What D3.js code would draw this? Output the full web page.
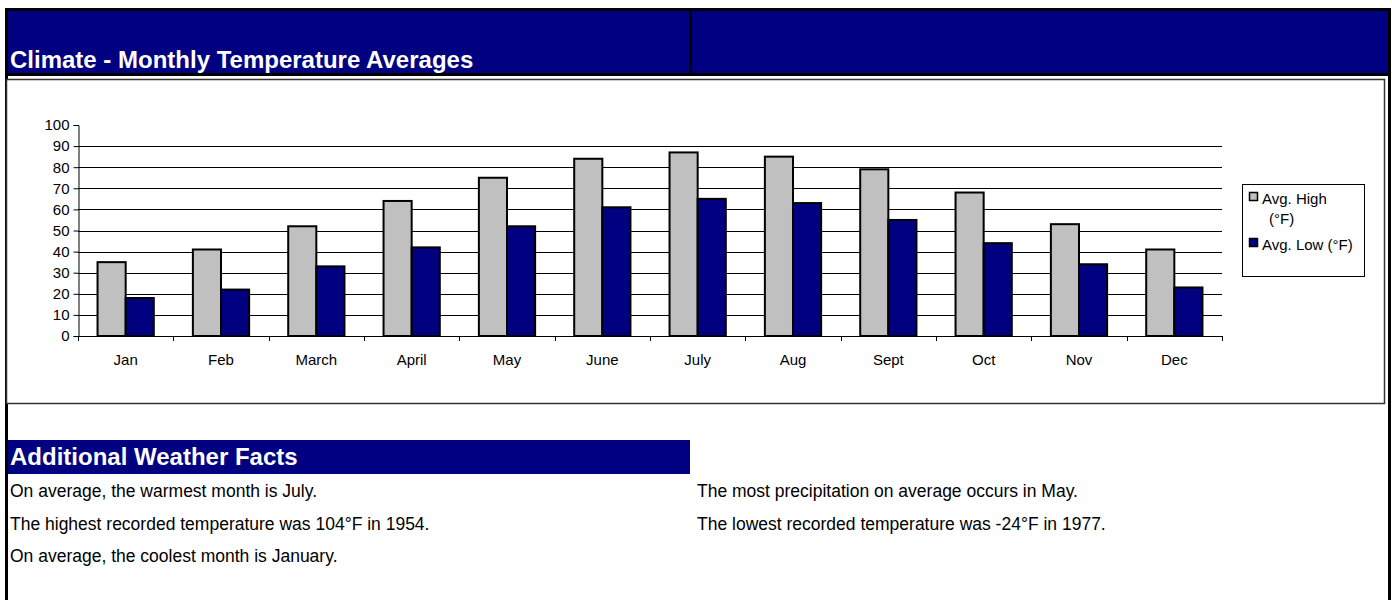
<!DOCTYPE html>
<html>
<head>
<meta charset="utf-8">
<script src="https://cdn.jsdelivr.net/npm/d3@7"></script>
<style>
  body { margin: 0; background: #fff; }
  svg { display: block; font-family: "Liberation Sans", Arial, sans-serif; }
</style>
</head>
<body>
<svg id="chart" width="1392" height="600"></svg>
<script>
// data
const months = ['Jan', 'Feb', 'March', 'April', 'May', 'June', 'July', 'Aug', 'Sept', 'Oct', 'Nov', 'Dec'];
const avgHigh = [35, 41, 52, 64, 75, 84, 87, 85, 79, 68, 53, 41];
const avgLow = [18, 22, 33, 42, 52, 61, 65, 63, 55, 44, 34, 23];
const seriesNames = ['Avg. High (°F)', 'Avg. Low (°F)'];
const yTicks = [0, 10, 20, 30, 40, 50, 60, 70, 80, 90, 100];
const factsLeft = [
  'On average, the warmest month is July.',
  'The highest recorded temperature was 104°F in 1954.',
  'On average, the coolest month is January.'
];
const factsRight = [
  'The most precipitation on average occurs in May.',
  'The lowest recorded temperature was -24°F in 1977.'
];

const NAVY = '#000080';
const GRAY = '#c0c0c0';
const colors = [GRAY, NAVY];
const FONT = '"Liberation Sans", Arial, sans-serif';

const svg = d3.select('#chart');

// page frame: thick black borders
svg.append('rect').attr('x', 5).attr('y', 8).attr('width', 1386).attr('height', 68).attr('fill', '#000');
svg.append('rect').attr('x', 8).attr('y', 11).attr('width', 681).attr('height', 62).attr('fill', NAVY);
svg.append('rect').attr('x', 692).attr('y', 11).attr('width', 696).attr('height', 62).attr('fill', NAVY);
svg.append('rect').attr('x', 5).attr('y', 76).attr('width', 3).attr('height', 524).attr('fill', '#000');
svg.append('rect').attr('x', 1388).attr('y', 76).attr('width', 3).attr('height', 524).attr('fill', '#000');

svg.append('text')
  .attr('x', 10).attr('y', 68)
  .attr('fill', '#fff')
  .attr('font-size', 24).attr('font-weight', 'bold')
  .text('Climate - Monthly Temperature Averages');

// chart frame
svg.append('rect')
  .attr('x', 6.5).attr('y', 79.5).attr('width', 1378).attr('height', 324)
  .attr('fill', '#fff').attr('stroke', '#333').attr('stroke-width', 1.5);

// scales
const x0 = d3.scaleBand().domain(months).range([78, 1222]).paddingInner(0.41).paddingOuter(0.205);
const x1 = d3.scaleBand().domain([0, 1]).range([0, x0.bandwidth()]);
const y = d3.scaleLinear().domain([0, 100]).range([336, 125]);

const plot = svg.append('g');

// grid lines (no line at 100)
plot.append('g')
  .selectAll('line')
  .data(yTicks.filter(d => d > 0 && d < 100))
  .join('line')
  .attr('x1', 78).attr('x2', 1222)
  .attr('y1', d => Math.round(y(d)) + 0.5).attr('y2', d => Math.round(y(d)) + 0.5)
  .attr('stroke', '#000').attr('stroke-width', 1);

// y axis
const yAxis = plot.append('g')
  .attr('transform', 'translate(78.5,0)')
  .call(d3.axisLeft(y).tickValues(yTicks).tickSize(5).tickPadding(4));
yAxis.select('.domain').attr('stroke', '#000');
yAxis.selectAll('text').attr('font-size', 15).attr('fill', '#000').attr('font-family', FONT);

// bars
const groups = plot.append('g')
  .selectAll('g')
  .data(months)
  .join('g')
  .attr('transform', d => `translate(${x0(d)},0)`);

groups.selectAll('rect')
  .data((d, i) => [avgHigh[i], avgLow[i]])
  .join('rect')
  .attr('x', (d, j) => x1(j))
  .attr('y', d => y(d))
  .attr('width', x1.bandwidth())
  .attr('height', d => y(0) - y(d))
  .attr('fill', (d, j) => colors[j])
  .attr('stroke', '#000').attr('stroke-width', 2);

// x axis: ticks between categories
const step = x0.step();
plot.append('line')
  .attr('x1', 78).attr('x2', 1222)
  .attr('y1', 336.5).attr('y2', 336.5)
  .attr('stroke', '#000');
plot.append('g')
  .selectAll('line')
  .data(d3.range(months.length + 1))
  .join('line')
  .attr('x1', i => Math.round(78 + i * step) + 0.5)
  .attr('x2', i => Math.round(78 + i * step) + 0.5)
  .attr('y1', 336).attr('y2', 341)
  .attr('stroke', '#000');
plot.append('g')
  .selectAll('text')
  .data(months)
  .join('text')
  .attr('x', d => x0(d) + x0.bandwidth() / 2)
  .attr('y', 365)
  .attr('text-anchor', 'middle')
  .attr('font-size', 15)
  .text(d => d);

// legend
const legend = svg.append('g');
legend.append('rect')
  .attr('x', 1242.5).attr('y', 184.5).attr('width', 122).attr('height', 92)
  .attr('fill', '#fff').attr('stroke', '#000');
legend.append('rect').attr('x', 1249.5).attr('y', 192.5).attr('width', 8).attr('height', 8)
  .attr('fill', colors[0]).attr('stroke', '#000').attr('stroke-width', 1.5);
legend.append('rect').attr('x', 1249.5).attr('y', 238.5).attr('width', 8).attr('height', 8)
  .attr('fill', colors[1]).attr('stroke', '#000').attr('stroke-width', 1.5);
const lt = legend.append('text').attr('font-size', 15);
lt.append('tspan').attr('x', 1262).attr('y', 204).text('Avg. High');
lt.append('tspan').attr('x', 1269).attr('y', 224).text('(°F)');
legend.append('text').attr('x', 1262).attr('y', 250).attr('font-size', 15).text(seriesNames[1]);

// facts section
svg.append('rect').attr('x', 8).attr('y', 440).attr('width', 682).attr('height', 34).attr('fill', NAVY);
svg.append('text')
  .attr('x', 10).attr('y', 465)
  .attr('fill', '#fff').attr('font-size', 24).attr('font-weight', 'bold')
  .text('Additional Weather Facts');

svg.append('g').selectAll('text')
  .data(factsLeft)
  .join('text')
  .attr('x', 10).attr('y', (d, i) => 497 + i * 32.5)
  .attr('font-size', 17.5)
  .text(d => d);
svg.append('g').selectAll('text')
  .data(factsRight)
  .join('text')
  .attr('x', 697).attr('y', (d, i) => 497 + i * 32.5)
  .attr('font-size', 17.5)
  .text(d => d);
</script>
</body>
</html>
